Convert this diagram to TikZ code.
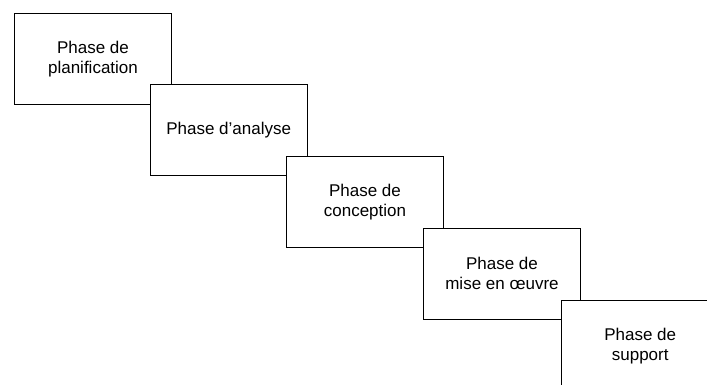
\documentclass[tikz,border=0pt]{standalone}
\usepackage{fontspec}
\setmainfont{Liberation Sans}
\usepackage{tikz}
\tikzset{phasebox/.style={draw=black,fill=white,line width=0.8pt,minimum width=157pt,minimum height=91pt,inner sep=0pt,align=center,font=\fontsize{17}{20}\selectfont}}
\begin{document}
\begin{tikzpicture}[x=1pt,y=-1pt]
	\clip (0,0) rectangle (707,385);
	\fill[white] (0,0) rectangle (707,385);
	\node[phasebox] (plan) at (93,58.7) {Phase de\\planification};
	\node[phasebox] (analyse) at (228.7,130.2) {Phase d’analyse};
	\node[phasebox] (concept) at (365,202) {Phase de\\conception};
	\node[phasebox] (oeuvre) at (502,273.8) {Phase de\\mise en œuvre};
	\node[phasebox] (support) at (640.2,346.2) {Phase de\\support};
\end{tikzpicture}
\end{document}
